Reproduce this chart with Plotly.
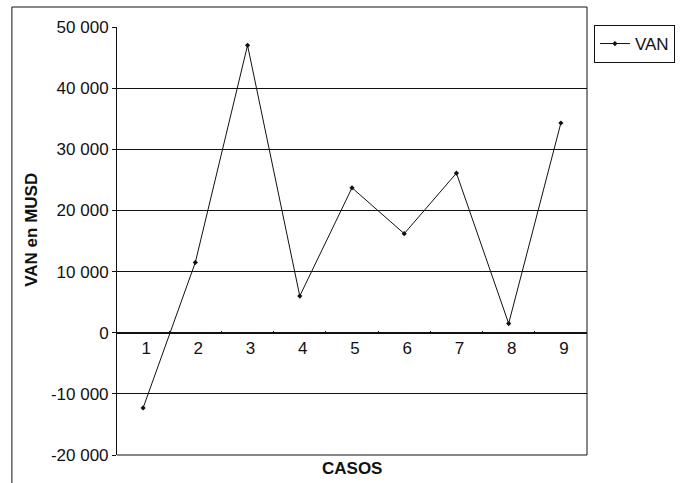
import plotly.graph_objects as go

# VAN (net present value, MUSD) for each case
casos = ["1", "2", "3", "4", "5", "6", "7", "8", "9"]
van = [-12300, 11500, 47000, 6000, 23700, 16200, 26100, 1500, 34300]

y_tickvals = [-20000, -10000, 0, 10000, 20000, 30000, 40000, 50000]
y_ticktext = ["-20 000", "-10 000", "0", "10 000", "20 000", "30 000", "40 000", "50 000"]

font_family = "Liberation Sans, Arial, sans-serif"
ink = "#111111"
fs = 17

fig = go.Figure()
fig.add_trace(go.Scatter(
    x=casos, y=van, name="VAN", mode="lines+markers",
    line=dict(color=ink, width=1),
    marker=dict(symbol="diamond", size=4, color=ink),
))

y_min, y_max = -20000, 50000

fig.update_layout(
    width=687, height=483,
    margin=dict(l=117, r=96, t=27, b=28),
    paper_bgcolor="white", plot_bgcolor="white",
    font=dict(family=font_family, size=fs, color=ink),
    showlegend=True,
    legend=dict(
        x=1.0148, y=1.0047, xanchor="left", yanchor="top",
        bordercolor=ink, borderwidth=1, bgcolor="white",
        font=dict(size=fs), itemwidth=30,
        tracegroupgap=0,
    ),
    xaxis=dict(
        type="category", range=[-0.5, 8.5],
        anchor="free", position=(0 - y_min) / (y_max - y_min),
        showline=True, linecolor=ink, linewidth=1,
        showgrid=False, zeroline=False,
        ticks="inside", ticklen=2, tickcolor=ink, tickson="boundaries",
        ticklabelshift=3,
        tickfont=dict(size=fs),
        automargin=False,
    ),
    yaxis=dict(
        range=[y_min, y_max],
        tickvals=y_tickvals, ticktext=y_ticktext,
        showline=True, linecolor=ink, linewidth=1,
        showgrid=True, gridcolor=ink, gridwidth=1,
        zeroline=False,
        ticks="outside", ticklen=4, tickcolor=ink,
        tickfont=dict(size=fs),
        automargin=False,
    ),
    shapes=[
        # plot-area right and bottom edges
        dict(type="line", xref="paper", yref="paper", x0=1, x1=1, y0=0, y1=1.0467,
             line=dict(color=ink, width=1)),
        dict(type="line", xref="paper", yref="paper", x0=0, x1=1, y0=0, y1=0,
             line=dict(color=ink, width=1)),
        # chart-area frame
        dict(type="line", xref="paper", yref="paper", x0=-0.2236, x1=1, y0=1.0467, y1=1.0467,
             line=dict(color=ink, width=1)),
        dict(type="line", xref="paper", yref="paper", x0=-0.2236, x1=-0.2236, y0=-0.08, y1=1.0467,
             line=dict(color=ink, width=1)),
    ],
    annotations=[
        dict(text="<b>VAN en MUSD</b>", xref="paper", yref="paper",
             x=(30 - 117) / 474, y=(455 - 230) / 428, textangle=-90, showarrow=False,
             font=dict(size=fs, color=ink), xanchor="center", yanchor="middle"),
        dict(text="<b>CASOS</b>", xref="paper", yref="paper",
             x=0.5, y=(455 - 468) / 428, showarrow=False,
             font=dict(size=fs, color=ink), xanchor="center", yanchor="middle"),
    ],
)

fig.write_html("out.html")
